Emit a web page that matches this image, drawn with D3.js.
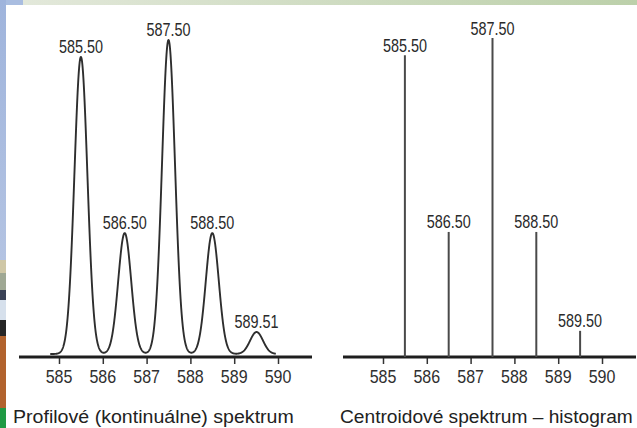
<!DOCTYPE html>
<html>
<head>
<meta charset="utf-8">
<script src="https://cdn.jsdelivr.net/npm/d3@7"></script>
<style>
  html, body { margin: 0; padding: 0; background: #fff; }
  svg { display: block; }
  text { font-family: "Liberation Sans", Arial, sans-serif; }
</style>
</head>
<body>
<svg id="chart" width="637" height="428"></svg>
<script>
// ---- data ----
const peakMz = [585.5, 586.5, 587.5, 588.5, 589.51];
const peakLabels = ["585.50", "586.50", "587.50", "588.50", "589.51"];
const profileIntensity = [94.6, 38.5, 100, 38.5, 7.0];
const centroidMz = [585.5, 586.5, 587.5, 588.5, 589.5];
const centroidLabels = ["585.50", "586.50", "587.50", "588.50", "589.50"];
const centroidIntensity = [94.6, 39.2, 100, 39.2, 8.2];
const tickValues = [585, 586, 587, 588, 589, 590];
const captions = ["Profilové (kontinuálne) spektrum", "Centroidové spektrum – histogram"];
const peakSigma = 0.148;          // peak width (m/z units)
const profileRange = [584.8, 589.95];

const svg = d3.select("#chart");

// ---- decorative slide background edges ----
const defs = svg.append("defs");
const g1 = defs.append("linearGradient").attr("id", "topband");
g1.append("stop").attr("offset", "0%").attr("stop-color", "#e4e9dc");
g1.append("stop").attr("offset", "100%").attr("stop-color", "#bcd0aa");
svg.append("rect").attr("x", 0).attr("y", 0).attr("width", 637).attr("height", 5).attr("fill", "url(#topband)");
svg.append("rect").attr("x", 0).attr("y", 0).attr("width", 23).attr("height", 5).attr("fill", "#a9bde0");
const g2 = defs.append("linearGradient").attr("id", "leftband").attr("x1", 0).attr("y1", 0).attr("x2", 0).attr("y2", 1);
g2.append("stop").attr("offset", "0%").attr("stop-color", "#9fb4dc");
g2.append("stop").attr("offset", "100%").attr("stop-color", "#b3c3e2");
svg.append("rect").attr("x", 0).attr("y", 0).attr("width", 6).attr("height", 260).attr("fill", "url(#leftband)");
const photo = [[260, 273, "#cfc7a6"], [273, 290, "#9fa894"], [290, 300, "#3a4256"], [300, 320, "#d6e0ec"],
               [320, 336, "#262626"], [336, 408, "#b2632e"], [408, 428, "#1f9a44"]];
photo.forEach(p => svg.append("rect").attr("x", 0).attr("y", p[0]).attr("width", 6).attr("height", p[1] - p[0]).attr("fill", p[2]));

// ---- scales ----
const xDomain = [584.087, 590.776];
const xL = d3.scaleLinear().domain(xDomain).range([19, 312]);
const xR = d3.scaleLinear().domain(xDomain).range([343, 636]);
const yL = d3.scaleLinear().domain([0, 100]).range([354, 40]);
const yR = d3.scaleLinear().domain([0, 100]).range([357, 38]);
const axisY = 357;

function drawAxis(x) {
  const g = svg.append("g");
  const ax = d3.axisBottom(x).tickValues(tickValues).tickSize(7).tickPadding(2).tickFormat(d3.format("d"));
  const a = g.append("g").attr("transform", `translate(0,${axisY})`).call(ax);
  a.select(".domain").remove();
  a.selectAll(".tick line").attr("stroke", "#333").attr("stroke-width", 1.5);
  a.selectAll(".tick text").remove();
  g.append("line").attr("x1", x.range()[0]).attr("x2", x.range()[1])
    .attr("y1", axisY).attr("y2", axisY).attr("stroke", "#1e1e1e").attr("stroke-width", 3);
  tickValues.forEach(v => {
    g.append("text").attr("transform", `translate(${x(v)},383) scale(0.89,1)`)
      .attr("text-anchor", "middle").attr("font-size", 18).attr("fill", "#2f2f2f").text(d3.format("d")(v));
  });
}

// ---- left: profile spectrum ----
const samples = d3.range(profileRange[0], profileRange[1] + 1e-9, 0.005);
const profile = samples.map(m => ({
  m, v: d3.sum(peakMz, (c, i) => profileIntensity[i] * Math.exp(-0.5 * ((m - c) / peakSigma) ** 2))
}));
drawAxis(xL);
svg.append("path").datum(profile)
  .attr("d", d3.line().x(d => xL(d.m)).y(d => yL(d.v)))
  .attr("fill", "none").attr("stroke", "#2e2e2e").attr("stroke-width", 1.9).attr("stroke-linejoin", "round");
peakMz.forEach((m, i) => {
  svg.append("text").attr("transform", `translate(${xL(m)},${yL(profileIntensity[i]) - 4}) scale(0.8,1)`)
    .attr("text-anchor", "middle").attr("font-size", 18).attr("fill", "#2a2a2a").text(peakLabels[i]);
});

// ---- right: centroid spectrum ----
drawAxis(xR);
centroidMz.forEach((m, i) => {
  svg.append("line").attr("x1", xR(m)).attr("x2", xR(m)).attr("y1", axisY).attr("y2", yR(centroidIntensity[i]))
    .attr("stroke", "#4a4a4a").attr("stroke-width", 2);
  svg.append("text").attr("transform", `translate(${xR(m)},${yR(centroidIntensity[i]) - 3.5}) scale(0.8,1)`)
    .attr("text-anchor", "middle").attr("font-size", 18).attr("fill", "#2a2a2a").text(centroidLabels[i]);
});

// ---- captions ----
svg.append("text").attr("transform", "translate(13,423) scale(1.12,1)")
  .attr("font-size", 17.5).attr("fill", "#222").text(captions[0]);
svg.append("text").attr("transform", "translate(340,423) scale(1.095,1)")
  .attr("font-size", 17.5).attr("fill", "#222").text(captions[1]);
</script>
</body>
</html>
